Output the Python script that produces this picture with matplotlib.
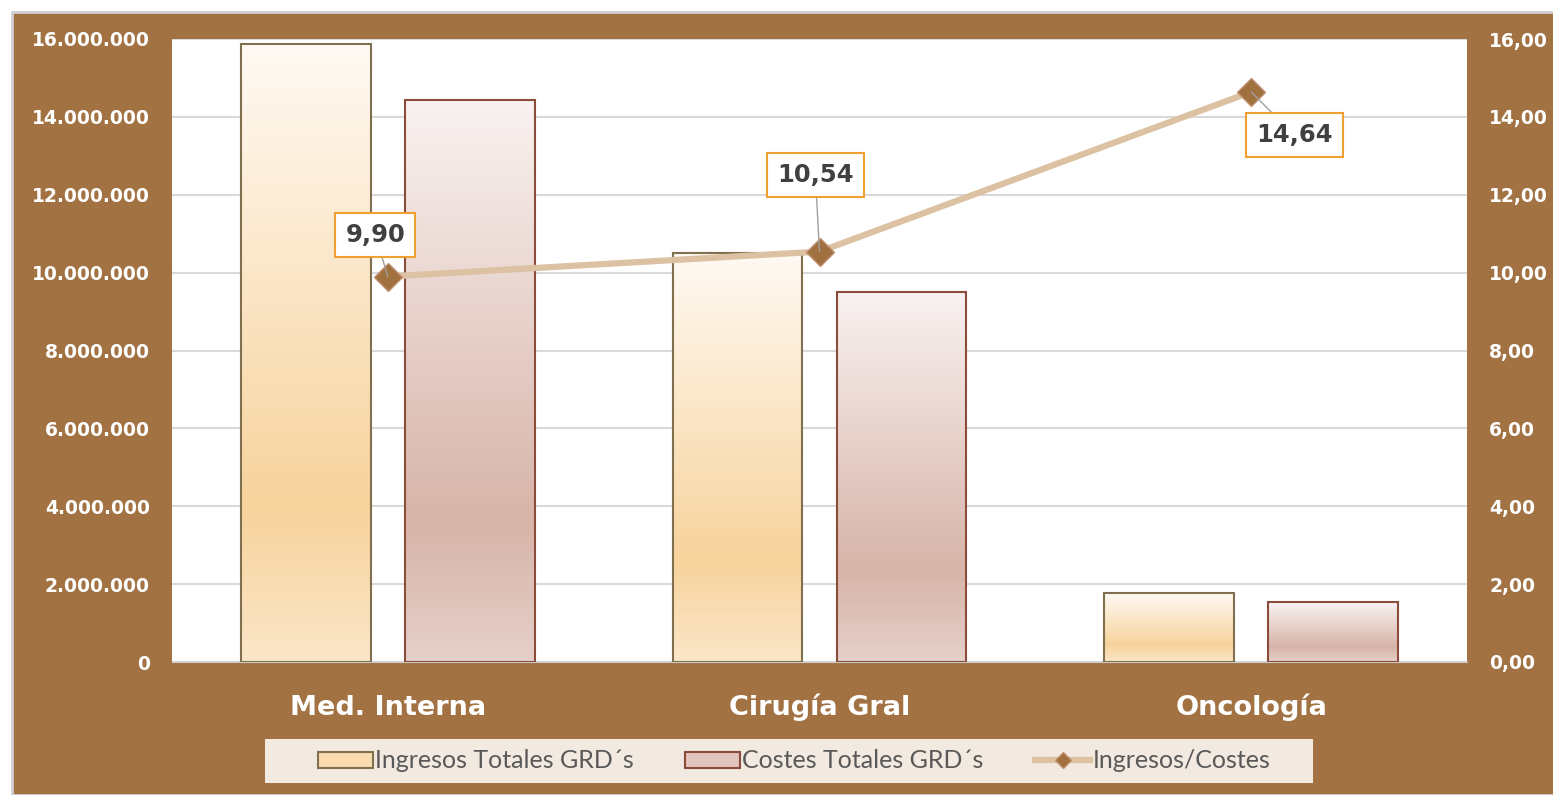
import numpy as np
import matplotlib.pyplot as plt
from matplotlib.patches import Patch, Rectangle
from matplotlib.lines import Line2D
from matplotlib.colors import LinearSegmentedColormap

plt.rcParams['font.family'] = ['DejaVu Sans']

categories = ['Med. Interna', 'Cirugía Gral', 'Oncología']
ingresos = [15870000, 10500000, 1770000]
costes = [14430000, 9500000, 1540000]
ratio = [9.90, 10.54, 14.64]
left_ticks = [0, 2000000, 4000000, 6000000, 8000000, 10000000, 12000000, 14000000, 16000000]
right_ticks = [0, 2, 4, 6, 8, 10, 12, 14, 16]
label_offsets = [(-9, 30), (-3, 55), (31, -31)]

brown = '#a27243'
W, H = 1553, 795
fig = plt.figure(figsize=(W / 100, H / 100), dpi=100)
fig.patch.set_facecolor('white')
fig.patches.append(Rectangle((12 / W, 0), 1, (H - 12) / H, transform=fig.transFigure,
                             facecolor=brown, edgecolor='#d0d0d0', linewidth=2, zorder=-5))
# legend background strip
fig.patches.append(Rectangle((265 / W, 1 - 783 / H), (1313 - 265) / W, 44 / H, transform=fig.transFigure,
                             facecolor='#f2e9e0', edgecolor='none', zorder=-4))

ax = fig.add_axes([172 / W, 1 - 662 / H, (1467 - 172) / W, (662 - 39) / H])
ax.set_facecolor('white')
ax2 = ax.twinx()

x = np.arange(len(categories))
w = 0.30
off = 0.19

cmap_ing = LinearSegmentedColormap.from_list('ing', [(0, '#fbe6c8'), (0.25, '#f7d39c'), (1, '#fffaf4')])
cmap_cos = LinearSegmentedColormap.from_list('cos', [(0, '#e5d0c9'), (0.25, '#d7b4a9'), (1, '#f9f2f1')])
grad = np.linspace(0, 1, 256).reshape(-1, 1)

def gradient_bars(xs, vals, cmap, edge):
    bars = ax.bar(xs, vals, w, facecolor='none', edgecolor=edge, linewidth=1.5, zorder=3)
    for b in bars:
        x0, y0 = b.get_x(), b.get_y()
        im = ax.imshow(grad, cmap=cmap, origin='lower', aspect='auto',
                       extent=(x0, x0 + b.get_width(), y0, y0 + b.get_height()), zorder=2)
        im.set_clip_path(b)
    return bars

gradient_bars(x - off, ingresos, cmap_ing, '#80704f')
gradient_bars(x + off, costes, cmap_cos, '#8c4c3c')

ax.set_xlim(-0.5, 2.5)
ax.set_ylim(0, 16000000)
ax.set_yticks(left_ticks)
ax.set_yticklabels([f'{v:,.0f}'.replace(',', '.') for v in left_ticks])
ax.set_xticks(x)
ax.set_xticklabels(categories)
ax.grid(axis='y', color='#d9d9d9', linewidth=1.5, zorder=0)
ax.set_axisbelow(True)
for s in ['top', 'left', 'right']:
    ax.spines[s].set_visible(False)
ax.spines['bottom'].set_color('#c8c8c8')
ax.tick_params(axis='y', length=0, pad=16, labelsize=13.5, labelcolor='white')
ax.tick_params(axis='x', length=0, pad=38, labelsize=19.5, labelcolor='white')
for t in ax.get_yticklabels() + ax.get_xticklabels():
    t.set_fontweight('bold')
for t in ax.get_xticklabels():
    t.set_verticalalignment('baseline')

ax2.plot(x, ratio, color='#dcc1a2', linewidth=4.5, marker='D', markersize=14,
         markerfacecolor='#a0703e', markeredgecolor='#c09070', zorder=5)
ax2.set_ylim(0, 16)
ax2.set_yticks(right_ticks)
ax2.set_yticklabels([f'{v:.2f}'.replace('.', ',') for v in right_ticks])
ax2.tick_params(axis='y', length=0, pad=16, labelsize=13.5, labelcolor='white')
for t in ax2.get_yticklabels():
    t.set_fontweight('bold')
for s in ax2.spines.values():
    s.set_visible(False)

for xi, r, (dx, dy) in zip(x, ratio, label_offsets):
    ax2.annotate(f'{r:.2f}'.replace('.', ','), (xi, r), xytext=(dx, dy), textcoords='offset points',
                 ha='center', va='center', fontsize=17.5, fontweight='bold', color='#404040',
                 bbox=dict(boxstyle='square,pad=0.42', facecolor='white', edgecolor='#f0a030', linewidth=1.5),
                 arrowprops=dict(arrowstyle='-', color='#a0a0a0', linewidth=1, shrinkA=0, shrinkB=0),
                 zorder=6)

handles = [Patch(facecolor='#f9dcb0', edgecolor='#80704f', linewidth=1.5),
           Patch(facecolor='#e2c6bd', edgecolor='#8c4c3c', linewidth=1.5),
           Line2D([0], [0], color='#dcc1a2', linewidth=4.5, marker='D', markersize=8,
                  markerfacecolor='#a0703e', markeredgecolor='#c09070')]
labels = ['Ingresos Totales GRD´s', 'Costes Totales GRD´s', 'Ingresos/Costes']
leg = fig.legend(handles, labels, loc='center', bbox_to_anchor=(794 / W, 1 - 761 / H), ncol=3,
                 frameon=False, prop={'family': 'Lato', 'size': 18}, labelcolor='#595959',
                 handlelength=2.2, handleheight=0.6, handletextpad=0.1, columnspacing=2.05,
                 borderpad=0, borderaxespad=0)

fig.savefig('out.png', dpi=100, facecolor=fig.get_facecolor())
